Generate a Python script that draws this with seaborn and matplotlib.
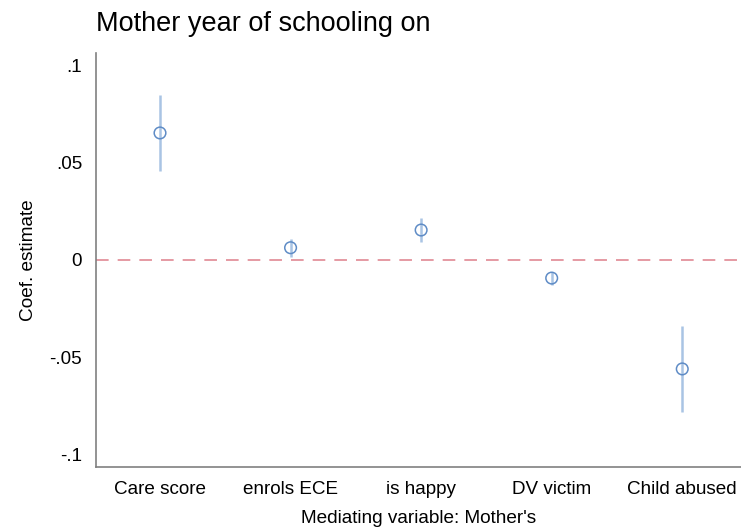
import pandas as pd
import numpy as np
import matplotlib.pyplot as plt
import seaborn as sns

categories = ["Care score", "enrols ECE", "is happy", "DV victim", "Child abused"]
coef = [0.0653, 0.0063, 0.0154, -0.0093, -0.0560]
ci_low = [0.0455, 0.0017, 0.0092, -0.0128, -0.0780]
ci_high = [0.0848, 0.0107, 0.0215, -0.0060, -0.0340]
yticks = [-0.1, -0.05, 0, 0.05, 0.1]
yticklabels = ["-.1", "-.05", "0", ".05", ".1"]

df = pd.DataFrame({"var": categories, "coef": coef, "lo": ci_low, "hi": ci_high})

sns.set_style("white")
plt.rcParams["font.family"] = ["Liberation Sans", "DejaVu Sans"]
plt.rcParams["text.color"] = "black"
plt.rcParams["axes.labelcolor"] = "black"
plt.rcParams["xtick.color"] = "black"
plt.rcParams["ytick.color"] = "black"

fig = plt.figure(figsize=(7.41, 5.32), dpi=100)
ax = fig.add_axes([0.1296, 0.1222, 0.8704, 0.7782])

xpos = np.arange(len(df))
ax.vlines(xpos, df["lo"], df["hi"], color="#a9c4e4", linewidth=1.8, zorder=2)
sns.scatterplot(x=xpos, y=df["coef"], ax=ax, s=70, marker="o",
                facecolor="none", edgecolor="#5f8cc6", linewidth=1.1, zorder=3)
ax.axhline(0, color="#e3929c", linestyle=(0, (7, 5)), linewidth=1.3, zorder=1)

ax.set_xlim(-0.49, 4.45)
ax.set_ylim(-0.1064, 0.1064)
ax.set_xticks(xpos)
ax.set_xticklabels(categories, fontsize=13.6)
ax.set_yticks(yticks)
ax.set_yticklabels(yticklabels, fontsize=13.6)
ax.tick_params(length=0, pad=10)

for side in ["top", "right"]:
    ax.spines[side].set_visible(False)
for side in ["left", "bottom"]:
    ax.spines[side].set_color("#808080")
    ax.spines[side].set_linewidth(1.2)

ax.set_ylabel("Coef. estimate", fontsize=13.7, labelpad=9)
ax.set_xlabel("Mediating variable: Mother's", fontsize=13.7, labelpad=9)
ax.set_title("Mother year of schooling on", fontsize=19.5, loc="left", pad=16)

fig.savefig("out.png", dpi=100)
